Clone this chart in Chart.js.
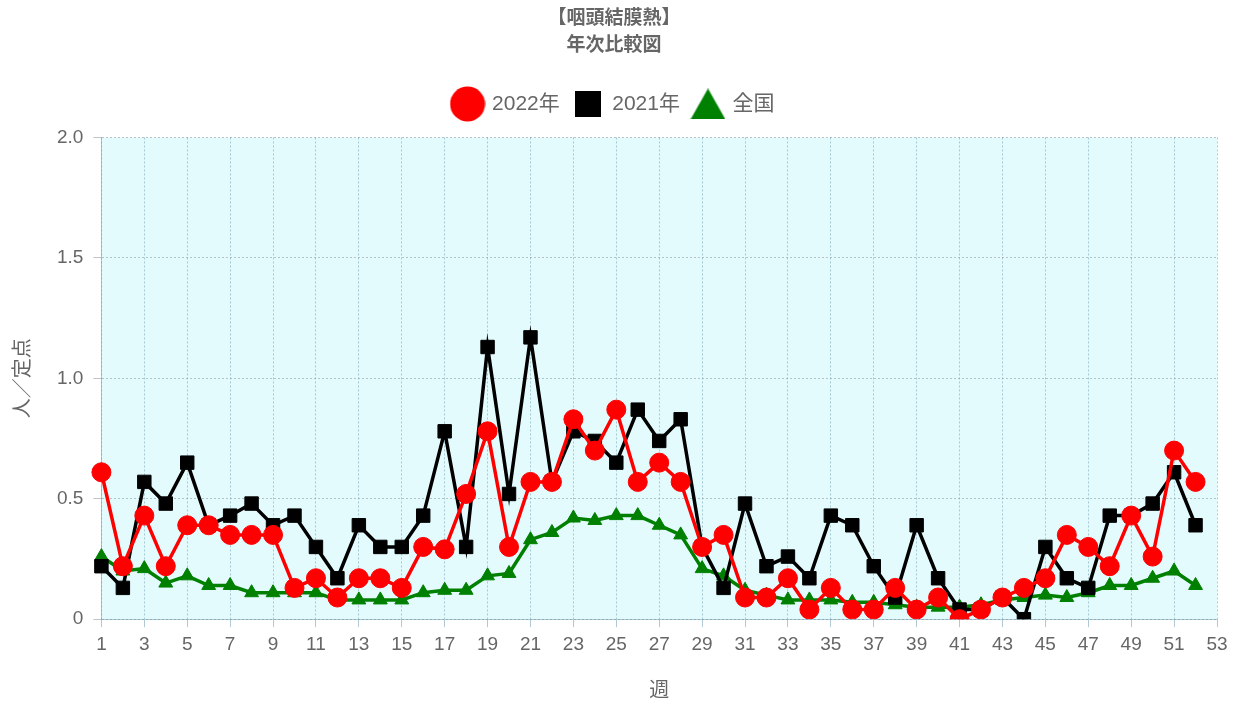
<!DOCTYPE html>
<html lang="ja">
<head>
    <meta charset="UTF-8">
    <title>咽頭結膜熱 年次比較図</title>
    <script src="https://cdn.jsdelivr.net/npm/chart.js"></script>
    <style>
        html, body { margin: 0; padding: 0; background: #fff; }
        #wrap { width: 1241px; height: 702px; }
    </style>
</head>
<body>
    <div id="wrap"><canvas id="yearChart"></canvas></div>

    <script>
        // week numbers on the x axis (data covers 1-52, axis runs to 53)
        const weeks = ['1','2','3','4','5','6','7','8','9','10','11','12','13','14','15','16','17','18','19','20',
            '21','22','23','24','25','26','27','28','29','30','31','32','33','34','35','36','37','38','39','40',
            '41','42','43','44','45','46','47','48','49','50','51','52','53'];

        const y2022 = [0.61, 0.22, 0.43, 0.22, 0.39, 0.39, 0.35, 0.35, 0.35, 0.13,
            0.17, 0.09, 0.17, 0.17, 0.13, 0.30, 0.29, 0.52, 0.78, 0.30,
            0.57, 0.57, 0.83, 0.70, 0.87, 0.57, 0.65, 0.57, 0.30, 0.35,
            0.09, 0.09, 0.17, 0.04, 0.13, 0.04, 0.04, 0.13, 0.04, 0.09,
            0.00, 0.04, 0.09, 0.13, 0.17, 0.35, 0.30, 0.22, 0.43, 0.26,
            0.70, 0.57];

        const y2021 = [0.22, 0.13, 0.57, 0.48, 0.65, 0.39, 0.43, 0.48, 0.39, 0.43,
            0.30, 0.17, 0.39, 0.30, 0.30, 0.43, 0.78, 0.30, 1.13, 0.52,
            1.17, 0.57, 0.78, 0.74, 0.65, 0.87, 0.74, 0.83, 0.30, 0.13,
            0.48, 0.22, 0.26, 0.17, 0.43, 0.39, 0.22, 0.09, 0.39, 0.17,
            0.04, 0.04, 0.09, 0.00, 0.30, 0.17, 0.13, 0.43, 0.43, 0.48,
            0.61, 0.39];

        const national = [0.26, 0.20, 0.21, 0.15, 0.18, 0.14, 0.14, 0.11, 0.11, 0.11,
            0.11, 0.08, 0.08, 0.08, 0.08, 0.11, 0.12, 0.12, 0.18, 0.19,
            0.33, 0.36, 0.42, 0.41, 0.43, 0.43, 0.39, 0.35, 0.21, 0.18,
            0.12, 0.10, 0.08, 0.08, 0.08, 0.07, 0.07, 0.06, 0.05, 0.05,
            0.05, 0.06, 0.08, 0.09, 0.10, 0.09, 0.11, 0.14, 0.14, 0.17,
            0.20, 0.14];

        const yTicks = [0, 0.5, 1.0, 1.5, 2.0];

        const textColor = '#666';
        const gridColor = 'rgba(100, 150, 170, 0.5)';
        const fontFamily = "'Liberation Sans', 'Noto Sans CJK JP', sans-serif";

        // bigger markers for the legend, drawn on small canvases
        function makeMarker(shape, color, w, h) {
            const c = document.createElement('canvas');
            c.width = w; c.height = h;
            const g = c.getContext('2d');
            g.fillStyle = color;
            g.beginPath();
            if (shape === 'circle') {
                g.arc(w / 2, h / 2, w / 2 - 0.5, 0, Math.PI * 2);
            } else if (shape === 'rect') {
                g.rect(0, 0, w, h);
            } else {
                g.moveTo(w / 2, 0);
                g.lineTo(w, h);
                g.lineTo(0, h);
                g.closePath();
            }
            g.fill();
            return c;
        }
        const legendMarkers = [
            makeMarker('circle', '#ff0000', 36, 36),
            makeMarker('rect', '#000000', 26, 26),
            makeMarker('triangle', '#008000', 35, 31)
        ];

        // light cyan background inside the plot area
        const areaFill = {
            id: 'areaFill',
            beforeDraw(chart) {
                const { ctx, chartArea } = chart;
                ctx.save();
                ctx.fillStyle = '#e4fbfe';
                ctx.fillRect(chartArea.left, chartArea.top, chartArea.width, chartArea.height);
                ctx.restore();
            }
        };

        // a bit more room under the legend
        const legendGap = {
            id: 'legendGap',
            beforeInit(chart) {
                const fit = chart.legend.fit;
                chart.legend.fit = function () {
                    fit.call(this);
                    this.height += 13;
                };
            }
        };

        const ctx = document.getElementById('yearChart').getContext('2d');
        new Chart(ctx, {
            type: 'line',
            data: {
                labels: weeks,
                datasets: [
                    {
                        label: '2022年',
                        data: y2022,
                        borderColor: '#ff0000',
                        backgroundColor: '#ff0000',
                        borderWidth: 3.5,
                        pointStyle: 'circle',
                        pointRadius: 9.5,
                        pointHoverRadius: 9.5,
                        pointBorderWidth: 1,
                        tension: 0
                    },
                    {
                        label: '2021年',
                        data: y2021,
                        borderColor: '#000000',
                        backgroundColor: '#000000',
                        borderWidth: 3.5,
                        pointStyle: 'rect',
                        pointRadius: 9.5,
                        pointHoverRadius: 9.5,
                        pointBorderWidth: 1,
                        tension: 0
                    },
                    {
                        label: '全国',
                        data: national,
                        borderColor: '#008000',
                        backgroundColor: '#008000',
                        borderWidth: 3.5,
                        pointStyle: 'triangle',
                        pointRadius: 8,
                        pointHoverRadius: 8,
                        pointBorderWidth: 1,
                        tension: 0
                    }
                ]
            },
            options: {
                responsive: true,
                maintainAspectRatio: false,
                animation: false,
                layout: { padding: { left: 11, right: 24, top: 0, bottom: 0 } },
                plugins: {
                    title: {
                        display: true,
                        text: ['【咽頭結膜熱】', '年次比較図'],
                        color: textColor,
                        font: { family: fontFamily, size: 19, weight: 'bold', lineHeight: 1.38 },
                        padding: { top: 6, bottom: 21 }
                    },
                    legend: {
                        labels: {
                            usePointStyle: true,
                            pointStyleWidth: 28,
                            padding: 14,
                            color: textColor,
                            font: { family: fontFamily, size: 21 },
                            generateLabels(chart) {
                                const items = Chart.defaults.plugins.legend.labels.generateLabels(chart);
                                items.forEach((it, i) => { it.pointStyle = legendMarkers[i]; });
                                return items;
                            }
                        }
                    },
                    tooltip: { enabled: false }
                },
                scales: {
                    x: {
                        offset: false,
                        title: {
                            display: true,
                            text: '週',
                            color: textColor,
                            font: { family: fontFamily, size: 20, lineHeight: 1.1 },
                            padding: { top: 18, bottom: 0 }
                        },
                        grid: { color: gridColor, tickLength: 8 },
                        border: { color: gridColor, dash: [2, 2] },
                        ticks: {
                            autoSkip: false,
                            maxRotation: 0,
                            padding: 6,
                            color: textColor,
                            font: { family: fontFamily, size: 19 },
                            callback(v, i) { return i % 2 === 0 ? weeks[i] : null; }
                        }
                    },
                    y: {
                        min: 0,
                        max: 2,
                        afterBuildTicks(axis) { axis.ticks = yTicks.map(v => ({ value: v })); },
                        title: {
                            display: true,
                            text: '人／定点',
                            color: textColor,
                            font: { family: fontFamily, size: 20 },
                            padding: { top: 0, bottom: 12 }
                        },
                        grid: { color: 'rgba(130, 140, 150, 0.5)', tickLength: 8 },
                        border: { color: gridColor, dash: [2, 2] },
                        ticks: {
                            padding: 10,
                            color: textColor,
                            font: { family: fontFamily, size: 19 },
                            callback(v) { return v === 0 ? '0' : v.toFixed(1); }
                        }
                    }
                }
            },
            plugins: [areaFill, legendGap]
        });
    </script>
</body>
</html>
